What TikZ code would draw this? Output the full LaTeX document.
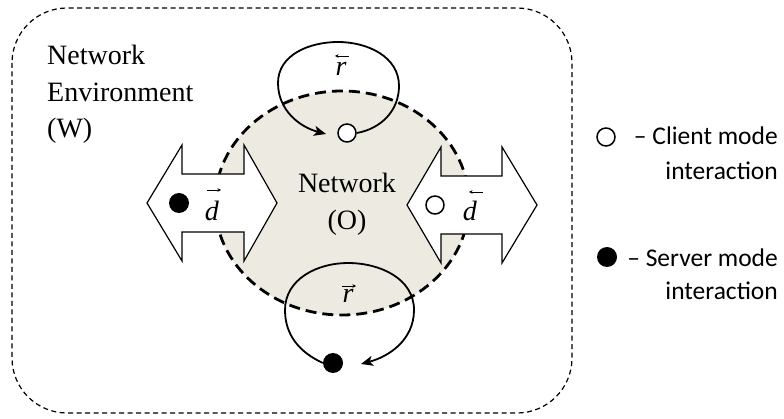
\documentclass[tikz,border=0pt]{standalone}
\usepackage{fontspec}
\setmainfont{Liberation Serif}
\newfontfamily\legendfont{Carlito}
\usetikzlibrary{arrows.meta}
\definecolor{netfill}{RGB}{236,234,225}
\begin{document}
\begin{tikzpicture}[x=1pt,y=-1pt,
  envline/.style={draw, line width=1.2pt, dash pattern=on 5pt off 3.5pt, rounded corners=55pt},
  netline/.style={line width=2.8pt, dash pattern=on 11pt off 6pt},
  arrowbox/.style={draw, fill=white, line width=1.2pt, line join=miter},
  serif/.style={font=\fontsize{28}{34}\selectfont, inner sep=0pt},
  legtext/.style={font=\legendfont\fontsize{25.5}{31}\selectfont, inner sep=0pt, anchor=base east},
  hollow/.style={circle, draw, fill=white, line width=1.5pt, minimum size=18pt, inner sep=0pt},
  blackdot/.style={circle, fill=black, minimum size=20pt, inner sep=0pt},
  looparrow/.style={line width=1.8pt, -{Stealth[length=12pt,width=10pt,inset=3pt]}},
  vecarr/.style={line width=0.7pt, -{Stealth[length=3.5pt,width=3.5pt]}}
]
\useasboundingbox (0,0) rectangle (784,419);
% environment
\draw[envline] (12,8) rectangle (572,413);
% network
\fill[netfill] (342,203) ellipse [x radius=127pt, y radius=112pt];
\draw[netline] (342,203) ellipse [x radius=127pt, y radius=112pt];
% double arrows
\draw[arrowbox] (147,203) -- (182,145) -- (182,174) -- (244,174) -- (244,145) -- (277,203)
  -- (244,261) -- (244,232) -- (182,232) -- (182,261) -- cycle;
\draw[arrowbox] (407,205) -- (441,147) -- (441,176) -- (502,176) -- (502,147) -- (537,205)
  -- (502,263) -- (502,234) -- (441,234) -- (441,263) -- cycle;
% left arrow content
\node[blackdot] (ld) at (179,203) {};
\node[serif, anchor=base] (dl) at (212,221) {\textit{d}};
\draw[vecarr] (207,190) -- (221,190);
% right arrow content
\node[hollow] (rc) at (435,205) {};
\node[serif, anchor=base] (dr) at (470,221) {\textit{d}};
\draw[vecarr] (483,192) -- (469,192);
% labels
\node[serif, anchor=base west] (w1) at (47,65) {Network};
\node[serif, anchor=base west] (w2) at (47,102) {Environment};
\node[serif, anchor=base west] (w3) at (47,138) {(W)};
\node[serif, anchor=base] (o1) at (347,193) {Network};
\node[serif, anchor=base] (o2) at (347,230) {(O)};
% top loop
\node[hollow] (tc) at (347,133) {};
\node[serif, anchor=base] (rt) at (341,76) {\textit{r}};
\draw[vecarr] (349,56) -- (335,56);
\coordinate (tcin) at (326,134);
\draw[looparrow] (tc.east) to[out=10,in=-90] (399,86) to[out=90,in=0] (338,42)
  to[out=180,in=90] (278,83) to[out=-90,in=165] (tcin);
% bottom loop
\node[blackdot] (bd) at (333,363) {};
\node[serif, anchor=base] (rb) at (348,303) {\textit{r}};
\draw[vecarr] (342,286) -- (356,286);
\coordinate (bdin) at (361,364);
\draw[looparrow] (bd.west) to[out=155,in=-90] (285,310) to[out=90,in=180] (348,263)
  to[out=0,in=90] (414,310) to[out=-90,in=15] (bdin);
% legend
\node[hollow] (lc) at (606,137) {};
\node[legtext] (lt1) at (778,145) {– Client mode};
\node[legtext] (lt2) at (778,180) {interaction};
\node[blackdot] (ls) at (607,257) {};
\node[legtext] (lt3) at (778,267) {– Server mode};
\node[legtext] (lt4) at (778,300) {interaction};
\end{tikzpicture}
\end{document}
